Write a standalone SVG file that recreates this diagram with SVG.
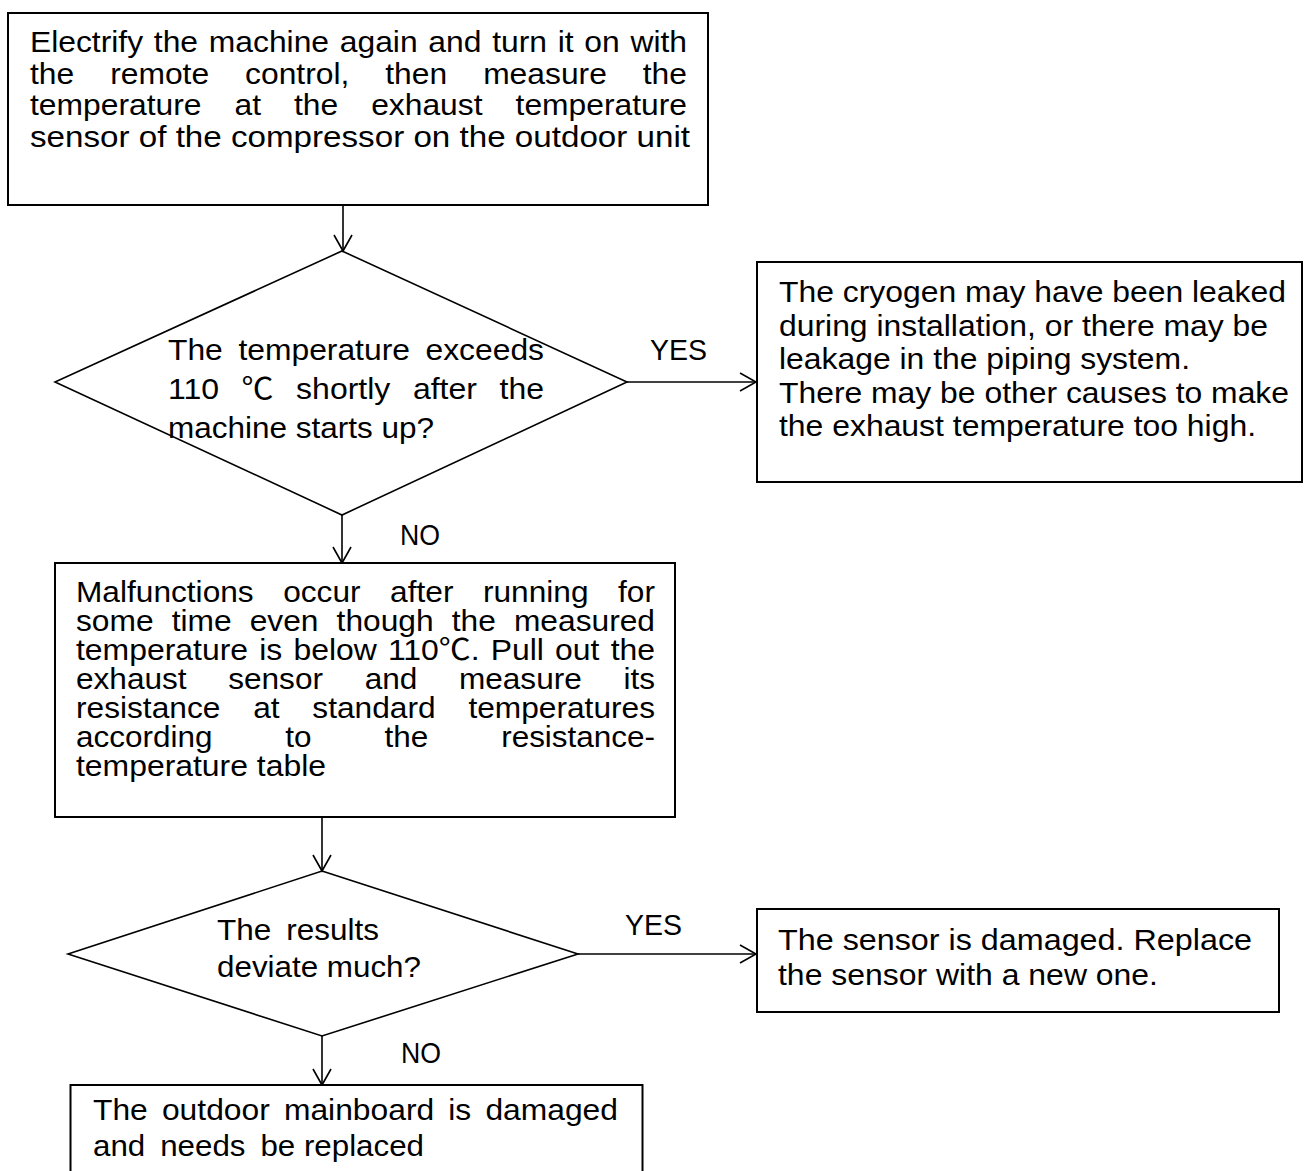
<svg xmlns="http://www.w3.org/2000/svg" width="1304" height="1171" viewBox="0 0 1304 1171">
<defs>
<style>
.box{fill:#fff;stroke:#000;stroke-width:2}
.dia{fill:none;stroke:#000;stroke-width:1.6}
.ln{fill:none;stroke:#000;stroke-width:1.6}
text{font-family:"Liberation Sans",Arial,"Noto Sans CJK SC",sans-serif;font-size:30px;fill:#000}
.t3{font-size:29px}
</style>
<marker id="arr" viewBox="-18 -11 20 22" refX="0" refY="0" markerWidth="20" markerHeight="22" markerUnits="userSpaceOnUse" orient="auto" overflow="visible">
<path d="M-16,-9 L0,0 L-16,9" fill="none" stroke="#000" stroke-width="1.6"/>
</marker>
</defs>
<rect width="1304" height="1171" fill="#fff"/>

<g id="connectors">
<line class="ln" x1="343" y1="205" x2="343" y2="251" marker-end="url(#arr)"/>
<line class="ln" x1="627" y1="382" x2="756" y2="382" marker-end="url(#arr)"/>
<line class="ln" x1="342" y1="515" x2="342" y2="563" marker-end="url(#arr)"/>
<line class="ln" x1="322" y1="817" x2="322" y2="871" marker-end="url(#arr)"/>
<line class="ln" x1="578" y1="954" x2="756" y2="954" marker-end="url(#arr)"/>
<line class="ln" x1="322" y1="1036" x2="322" y2="1085" marker-end="url(#arr)"/>
<text x="650" y="360" textLength="57" lengthAdjust="spacingAndGlyphs">YES</text>
<text x="400" y="545" textLength="40" lengthAdjust="spacingAndGlyphs">NO</text>
<text x="625" y="935" textLength="57" lengthAdjust="spacingAndGlyphs">YES</text>
<text x="401" y="1063" textLength="40" lengthAdjust="spacingAndGlyphs">NO</text>
</g>

<g id="n1">
<rect class="box" x="8" y="13" width="700" height="192"/>
<text x="30" y="52" word-spacing="1.8" textLength="657" lengthAdjust="spacingAndGlyphs">Electrify the machine again and turn it on with</text>
<text x="30" y="84" word-spacing="25.6" textLength="657" lengthAdjust="spacingAndGlyphs">the remote control, then measure the</text>
<text x="30" y="115" word-spacing="22.8" textLength="657" lengthAdjust="spacingAndGlyphs">temperature at the exhaust temperature</text>
<text x="30" y="147" textLength="660" lengthAdjust="spacingAndGlyphs">sensor of the compressor on the outdoor unit</text>
</g>

<g id="n2">
<polygon class="dia" points="342,251 627,382 342,515 55,382"/>
<text x="168" y="360" word-spacing="6.4" textLength="376" lengthAdjust="spacingAndGlyphs">The temperature exceeds</text>
<text x="168" y="399" word-spacing="12.8" textLength="376" lengthAdjust="spacingAndGlyphs">110 ℃ shortly after the</text>
<text x="168" y="438" textLength="266" lengthAdjust="spacingAndGlyphs">machine starts up?</text>
</g>

<g id="n3">
<rect class="box" x="757" y="262" width="545" height="220"/>
<text x="779" y="302" textLength="507" lengthAdjust="spacingAndGlyphs">The cryogen may have been leaked</text>
<text x="779" y="335.5" textLength="489" lengthAdjust="spacingAndGlyphs">during installation, or there may be</text>
<text x="779" y="369" textLength="411" lengthAdjust="spacingAndGlyphs">leakage in the piping system.</text>
<text x="779" y="402.5" textLength="510" lengthAdjust="spacingAndGlyphs">There may be other causes to make</text>
<text x="779" y="436" textLength="477" lengthAdjust="spacingAndGlyphs">the exhaust temperature too high.</text>
</g>

<g id="n4">
<rect class="box" x="55" y="563" width="620" height="254"/>
<text class="t3" x="76" y="602" word-spacing="19" textLength="579" lengthAdjust="spacingAndGlyphs">Malfunctions occur after running for</text>
<text class="t3" x="76" y="631" word-spacing="8.5" textLength="579" lengthAdjust="spacingAndGlyphs">some time even though the measured</text>
<text class="t3" x="76" y="660" word-spacing="2.1" textLength="579" lengthAdjust="spacingAndGlyphs">temperature is below 110℃. Pull out the</text>
<text class="t3" x="76" y="689" word-spacing="30.2" textLength="579" lengthAdjust="spacingAndGlyphs">exhaust sensor and measure its</text>
<text class="t3" x="76" y="718" word-spacing="22" textLength="579" lengthAdjust="spacingAndGlyphs">resistance at standard temperatures</text>
<text class="t3" x="76" y="747" word-spacing="59.2" textLength="579" lengthAdjust="spacingAndGlyphs">according to the resistance-</text>
<text class="t3" x="76" y="776" textLength="250" lengthAdjust="spacingAndGlyphs">temperature table</text>
</g>

<g id="n5">
<polygon class="dia" points="322,871 578,954 322,1036 68,954"/>
<text x="217" y="940" word-spacing="6" textLength="162" lengthAdjust="spacingAndGlyphs">The results</text>
<text x="217" y="977" textLength="204" lengthAdjust="spacingAndGlyphs">deviate much?</text>
</g>

<g id="n6">
<rect class="box" x="757" y="909" width="522" height="103"/>
<text x="778" y="950" textLength="474" lengthAdjust="spacingAndGlyphs">The sensor is damaged. Replace</text>
<text x="778" y="985" textLength="380" lengthAdjust="spacingAndGlyphs">the sensor with a new one.</text>
</g>

<g id="n7">
<rect class="box" x="70.5" y="1085" width="572" height="130"/>
<text x="93" y="1120" word-spacing="5" textLength="525" lengthAdjust="spacingAndGlyphs">The outdoor mainboard is damaged</text>
<text x="93" y="1156" textLength="331" lengthAdjust="spacingAndGlyphs">and <tspan dx="6">needs</tspan> <tspan dx="6">be</tspan> replaced</text>
</g>
</svg>
